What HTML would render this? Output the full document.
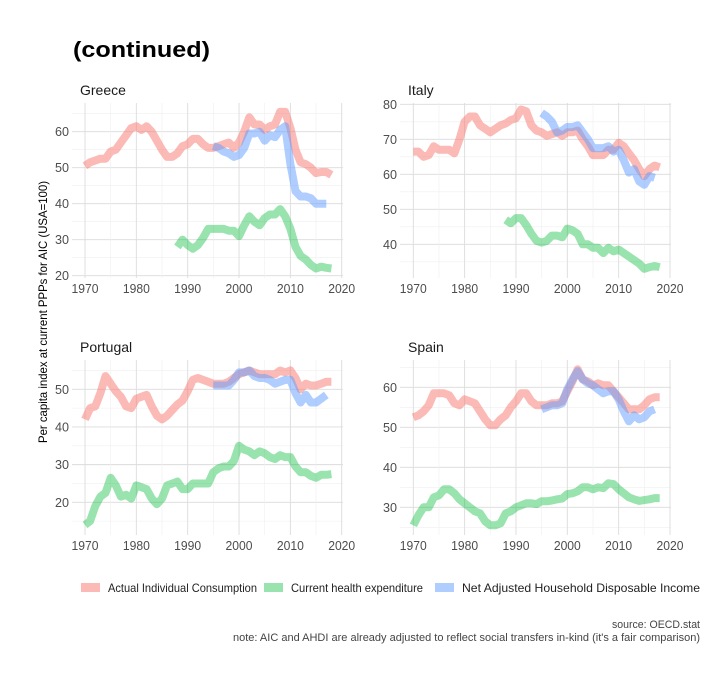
<!DOCTYPE html>
<html><head><meta charset="utf-8"><style>
body{margin:0;background:#fff;}
svg text{font-family:"Liberation Sans Narrow","Liberation Sans",sans-serif;}
</style></head><body>
<svg id="chart" width="711" height="684" viewBox="0 0 711 684" xmlns="http://www.w3.org/2000/svg">
<rect width="711" height="684" fill="#fff"/>
<text x="73" y="57" font-size="22" font-weight="bold" fill="#000" textLength="137" lengthAdjust="spacingAndGlyphs">(continued)</text>
<text transform="translate(47,312) rotate(-90)" text-anchor="middle" font-size="12" fill="#000" textLength="262" lengthAdjust="spacingAndGlyphs">Per capita index at current PPPs for AIC (USA=100)</text>
<g id="panels"></g>
<g>
<rect x="81" y="583" width="19" height="9" fill="#F8766D" opacity="0.5"/>
<text x="108" y="592" font-size="12" fill="#222" textLength="149" lengthAdjust="spacingAndGlyphs">Actual Individual Consumption</text>
<rect x="264" y="583" width="19" height="9" fill="#00BA38" opacity="0.4"/>
<text x="291" y="592" font-size="12" fill="#222" textLength="132" lengthAdjust="spacingAndGlyphs">Current health expenditure</text>
<rect x="435" y="583" width="19" height="9" fill="#619CFF" opacity="0.5"/>
<text x="462" y="592" font-size="12" fill="#222" textLength="238" lengthAdjust="spacingAndGlyphs">Net Adjusted Household Disposable Income</text>
</g>
<text x="700" y="628" text-anchor="end" font-size="11" fill="#444" textLength="88" lengthAdjust="spacingAndGlyphs">source: OECD.stat</text>
<text x="700" y="641" text-anchor="end" font-size="11" fill="#444" textLength="467" lengthAdjust="spacingAndGlyphs">note: AIC and AHDI are already adjusted to reflect social transfers in-kind (it's a fair comparison)</text>
</svg>
<script>
const yearsAIC = Array.from({length:49},(_, i)=>1970+i);
const yearsHealthShort = Array.from({length:31},(_, i)=>1988+i);
const yearsNAHDI = Array.from({length:23},(_, i)=>1995+i);
const xTicks = [1970,1980,1990,2000,2010,2020];

const greeceAIC = [50.5,51.5,52,52.5,52.5,54.5,55,57,59,61,61.5,60.5,61.5,60,57.5,55,53,53,54,56,56.5,58,58,56.5,55.5,55.5,56,56.5,57,55.5,57,60,64,62,62,60.5,61.5,62,65.5,65.5,61,55,51.5,51,50,48.5,48.8,48.8,48];
const greeceHealth = [28,30,28.5,27.5,28.5,30.5,33,33,33,33,32.5,32.5,31,34,36.5,35,34,36,37,37,38.5,36.5,33,28,25.5,24.5,23,22,22.5,22.2,22];
const greeceNAHDI = [56,55.5,54.5,54,53,53.5,55.5,59.5,59.5,60,57.5,59,58.5,60.5,61.5,51,43.5,42,42,41.5,40,40,40];
const greeceYTicks = [20,30,40,50,60];

const italyAIC = [66.5,66.5,65,65.5,68,67,67,67,66,70,75,76.5,76.5,74,73,72,73,74,74.5,75.5,76,78.5,78,74,72.5,72,71,71.5,72,71,72,72,72.5,70,68,65.5,65.5,65.5,67,67,69,68,66,64,61.5,59.5,61.5,62.5,62];
const italyHealth = [47,46,47.5,47.5,45.5,43,41,40.5,41,42.5,42.5,42,44.5,44,43,40,40,39,39,37.5,39,38,38.5,37.5,36.5,35.5,34.5,33,33.5,33.8,33.5];
const italyNAHDI = [77.5,76.5,75,72,72.5,73.5,73.5,74,72,70,67.5,67.5,67.5,68,66.5,67,64,60.5,61.5,58,57,59.5,59];
const italyYTicks = [40,50,60,70,80];

const portugalAIC = [42,45,45.5,49,53.5,51.5,49.5,48,45.5,45,47.5,48,48.5,45.5,43,42,43,44.5,46,47,49.5,52.5,53,52.5,52,51.5,51.5,51.5,52,53,54,54.5,55,54.5,54,54,54,54,55,54.5,55,53,50,51.5,51,51,51.5,52,52];
const portugalHealth = [14,15,19,21.5,22.5,26.5,24.5,21.5,22,21,24.5,24,23.5,21,19.5,21,24.5,25,25.5,23.5,23.5,25,25,25,25,28,29,29.5,29.5,31,35,34,33.5,32.5,33.5,33,32,31.5,32.5,32,32,29.5,28,28,27,26.5,27.3,27.3,27.5];
const portugalNAHDI = [51,51,51,51,52.5,54.5,54.5,55,53.5,53,53,52.5,51.5,52,52.5,52.5,49,46.5,48.5,46.5,46.5,47.5,48.5];
const portugalYTicks = [20,30,40,50];

const spainAIC = [52.5,53,54,55.5,58.5,58.5,58.5,58,56,55.5,57,56.5,56,54,52,50.5,50.5,52,53,55,56.5,58.5,58.5,56.5,55.5,55.5,55.5,56,56,56.5,59,61.5,64.5,62,61.5,60.5,61,60.5,60.5,59,57.5,56,54.5,54.5,54.5,55.5,57,57.5,57.5];
const spainHealth = [25.5,28,30,30,32.5,33,34.5,34.5,33.5,32,31,30,29,28.5,26.5,25.5,25.5,26,28.5,29,30,30.5,31,31,30.8,31.5,31.5,31.7,32,32.2,33.3,33.5,34,35,35,34.5,35,34.8,36,35.8,34.5,33.5,32.5,32,31.6,31.8,32,32.3,32.3];
const spainNAHDI = [54.5,55,55.5,55.5,56,59.5,62,64,62,61,60.5,59.5,58.5,59,59,57,54,51.5,53,52,52.5,54,54.5];
const spainYTicks = [30,40,50,60];

const NS='http://www.w3.org/2000/svg';
const root=document.getElementById('panels');
function mk(tag,attrs,parent){const e=document.createElementNS(NS,tag);for(const k in attrs)e.setAttribute(k,attrs[k]);parent.appendChild(e);return e;}

function panel(name,title,box,xMap,yMap,yTicks,series){
  const g=mk('g',{},root);
  
  
  const [L,T,R,B]=box;
  const v0=yMap.inv(B), v1=yMap.inv(T);
  for(let v=Math.ceil(v0/5)*5; v<=v1; v+=5){
    const major=yTicks.includes(v);
    const ln=mk('line',{x1:L,x2:R,y1:yMap(v),y2:yMap(v),stroke:major?'#dcdcdc':'#efefef','stroke-width':major?0.9:0.6},g);
    
    
  }
  for(let yr=1970; yr<=2020; yr+=5){
    const major=xTicks.includes(yr);
    const ln=mk('line',{x1:xMap(yr),x2:xMap(yr),y1:T,y2:B,stroke:major?'#dcdcdc':'#efefef','stroke-width':major?0.9:0.6},g);
    
    
  }
  for(const s of series){
    const d=s.vals.map((v,i)=>(i?'L':'M')+xMap(s.years[i]).toFixed(1)+','+yMap(v).toFixed(1)).join('');
    const p=mk('path',{d:d,fill:'none',stroke:s.color,'stroke-opacity':s.op,'stroke-width':8,'stroke-linejoin':'round','stroke-linecap':'butt'},g);
    
    
  }
  for(const v of yTicks){
    const t=mk('text',{x:L-3,y:yMap(v)+4.5,'text-anchor':'end','font-size':13,fill:'#4d4d4d',textLength:14,lengthAdjust:'spacingAndGlyphs'},g);
    t.textContent=v;
    
    
  }
  for(const yr of xTicks){
    const t=mk('text',{x:xMap(yr),y:B+15,'text-anchor':'middle','font-size':13,fill:'#4d4d4d',textLength:27,lengthAdjust:'spacingAndGlyphs'},g);
    t.textContent=yr;
    
    
  }
  const tt=mk('text',{x:L+8,y:T-8,'font-size':14,fill:'#1a1a1a'},g);
  tt.textContent=title;
  
  
}
function xScale(x1970,x2020){return yr=>x1970+(yr-1970)*(x2020-x1970)/50;}
function yScale(vA,pA,vB,pB){const k=(pB-pA)/(vB-vA);const f=v=>pA+(v-vA)*k;f.inv=p=>vA+(p-pA)/k;return f;}
const RED='#F8766D',GREEN='#00BA38',BLUE='#619CFF';
function ser(a,h,hy,n){return [{key:'aic',years:yearsAIC,vals:a,color:RED,op:0.5},{key:'health',years:hy,vals:h,color:GREEN,op:0.4},{key:'nahdi',years:yearsNAHDI,vals:n,color:BLUE,op:0.5}];}

panel('greece','Greece',[72,103,343,278],xScale(85,341.7),yScale(60,131.7,20,275.7),greeceYTicks,ser(greeceAIC,greeceHealth,yearsHealthShort,greeceNAHDI));
panel('italy','Italy',[400,103,671,278],xScale(413.3,670),yScale(80,104.3,40,244.3),italyYTicks,ser(italyAIC,italyHealth,yearsHealthShort,italyNAHDI));
panel('portugal','Portugal',[72,360,343,535],xScale(85,341.7),yScale(50,389.3,20,502.3),portugalYTicks,ser(portugalAIC,portugalHealth,yearsAIC,portugalNAHDI));
panel('spain','Spain',[400,360,671,535],xScale(413.3,670),yScale(60,387.3,30,507.3),spainYTicks,ser(spainAIC,spainHealth,yearsAIC,spainNAHDI));
</script>
</body></html>
